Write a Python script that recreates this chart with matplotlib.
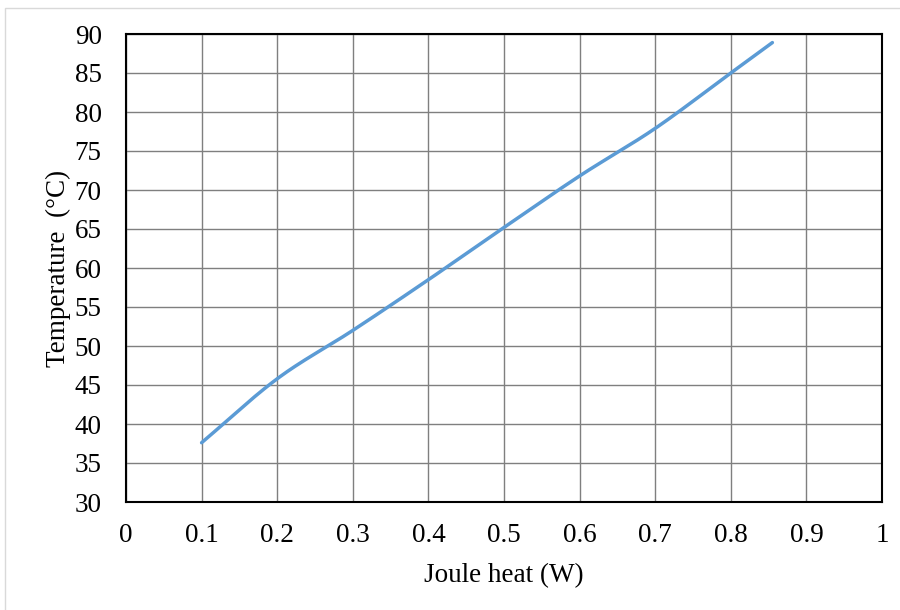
import numpy as np
import matplotlib
matplotlib.use("Agg")
import matplotlib.pyplot as plt
from matplotlib.patches import Rectangle

joule_heat = [0.1, 0.2, 0.3, 0.4, 0.5, 0.6, 0.7, 0.8, 0.855]
temperature = [37.6, 45.8, 52.0, 58.5, 65.2, 71.8, 77.9, 85.0, 88.9]
x_ticks = [0, 0.1, 0.2, 0.3, 0.4, 0.5, 0.6, 0.7, 0.8, 0.9, 1]
y_ticks = [30, 35, 40, 45, 50, 55, 60, 65, 70, 75, 80, 85, 90]


def catmull_rom(xs, ys, n=30):
    p = np.column_stack([xs, ys]).astype(float)
    p = np.vstack([p[0] - (p[1] - p[0]), p, p[-1] + (p[-1] - p[-2])])
    out = []
    for i in range(1, len(p) - 2):
        p0, p1, p2, p3 = p[i - 1], p[i], p[i + 1], p[i + 2]
        t = np.linspace(0, 1, n, endpoint=False)[:, None]
        c1 = p1 + (p2 - p0) / 6
        c2 = p2 - (p3 - p1) / 6
        seg = ((1 - t) ** 3) * p1 + 3 * ((1 - t) ** 2) * t * c1 + 3 * (1 - t) * t ** 2 * c2 + t ** 3 * p2
        out.append(seg)
    out.append(p[-2][None, :])
    out = np.vstack(out)
    return out[:, 0], out[:, 1]


plt.rcParams['font.family'] = ['Liberation Serif', 'DejaVu Serif']

fig = plt.figure(figsize=(9, 6.1), dpi=100)
ax = fig.add_axes([126 / 900, 1 - 502 / 610, (882 - 126) / 900, (502 - 34) / 610])

sx, sy = catmull_rom(joule_heat, temperature)
ax.plot(sx, sy, color='#5B9BD5', lw=2.5, solid_capstyle='round', zorder=3)

ax.set_xlim(0, 1)
ax.set_ylim(30, 90)
ax.set_xticks(x_ticks)
ax.set_xticklabels([f"{v:g}" for v in x_ticks])
ax.set_yticks(y_ticks)
ax.grid(True, color='#7f7f7f', lw=1.0)
ax.set_axisbelow(True)
for s in ax.spines.values():
    s.set_color('black')
    s.set_linewidth(1.5)
ax.tick_params(axis='y', length=0, labelsize=19.5, pad=17.5, colors='black')
ax.tick_params(axis='x', length=0, labelsize=19.5, pad=15, colors='black')
ax.set_xlabel('Joule heat (W)', fontsize=19.5, labelpad=11)
ax.set_ylabel('Temperature  (°C)', fontsize=19.5, labelpad=3)

fig.patches.append(Rectangle((5 / 900, -0.1), 2, 1 - 8 / 610 + 0.1, transform=fig.transFigure,
                             fill=False, edgecolor='#d9d9d9', lw=1))

fig.savefig('out.png', dpi=100)
